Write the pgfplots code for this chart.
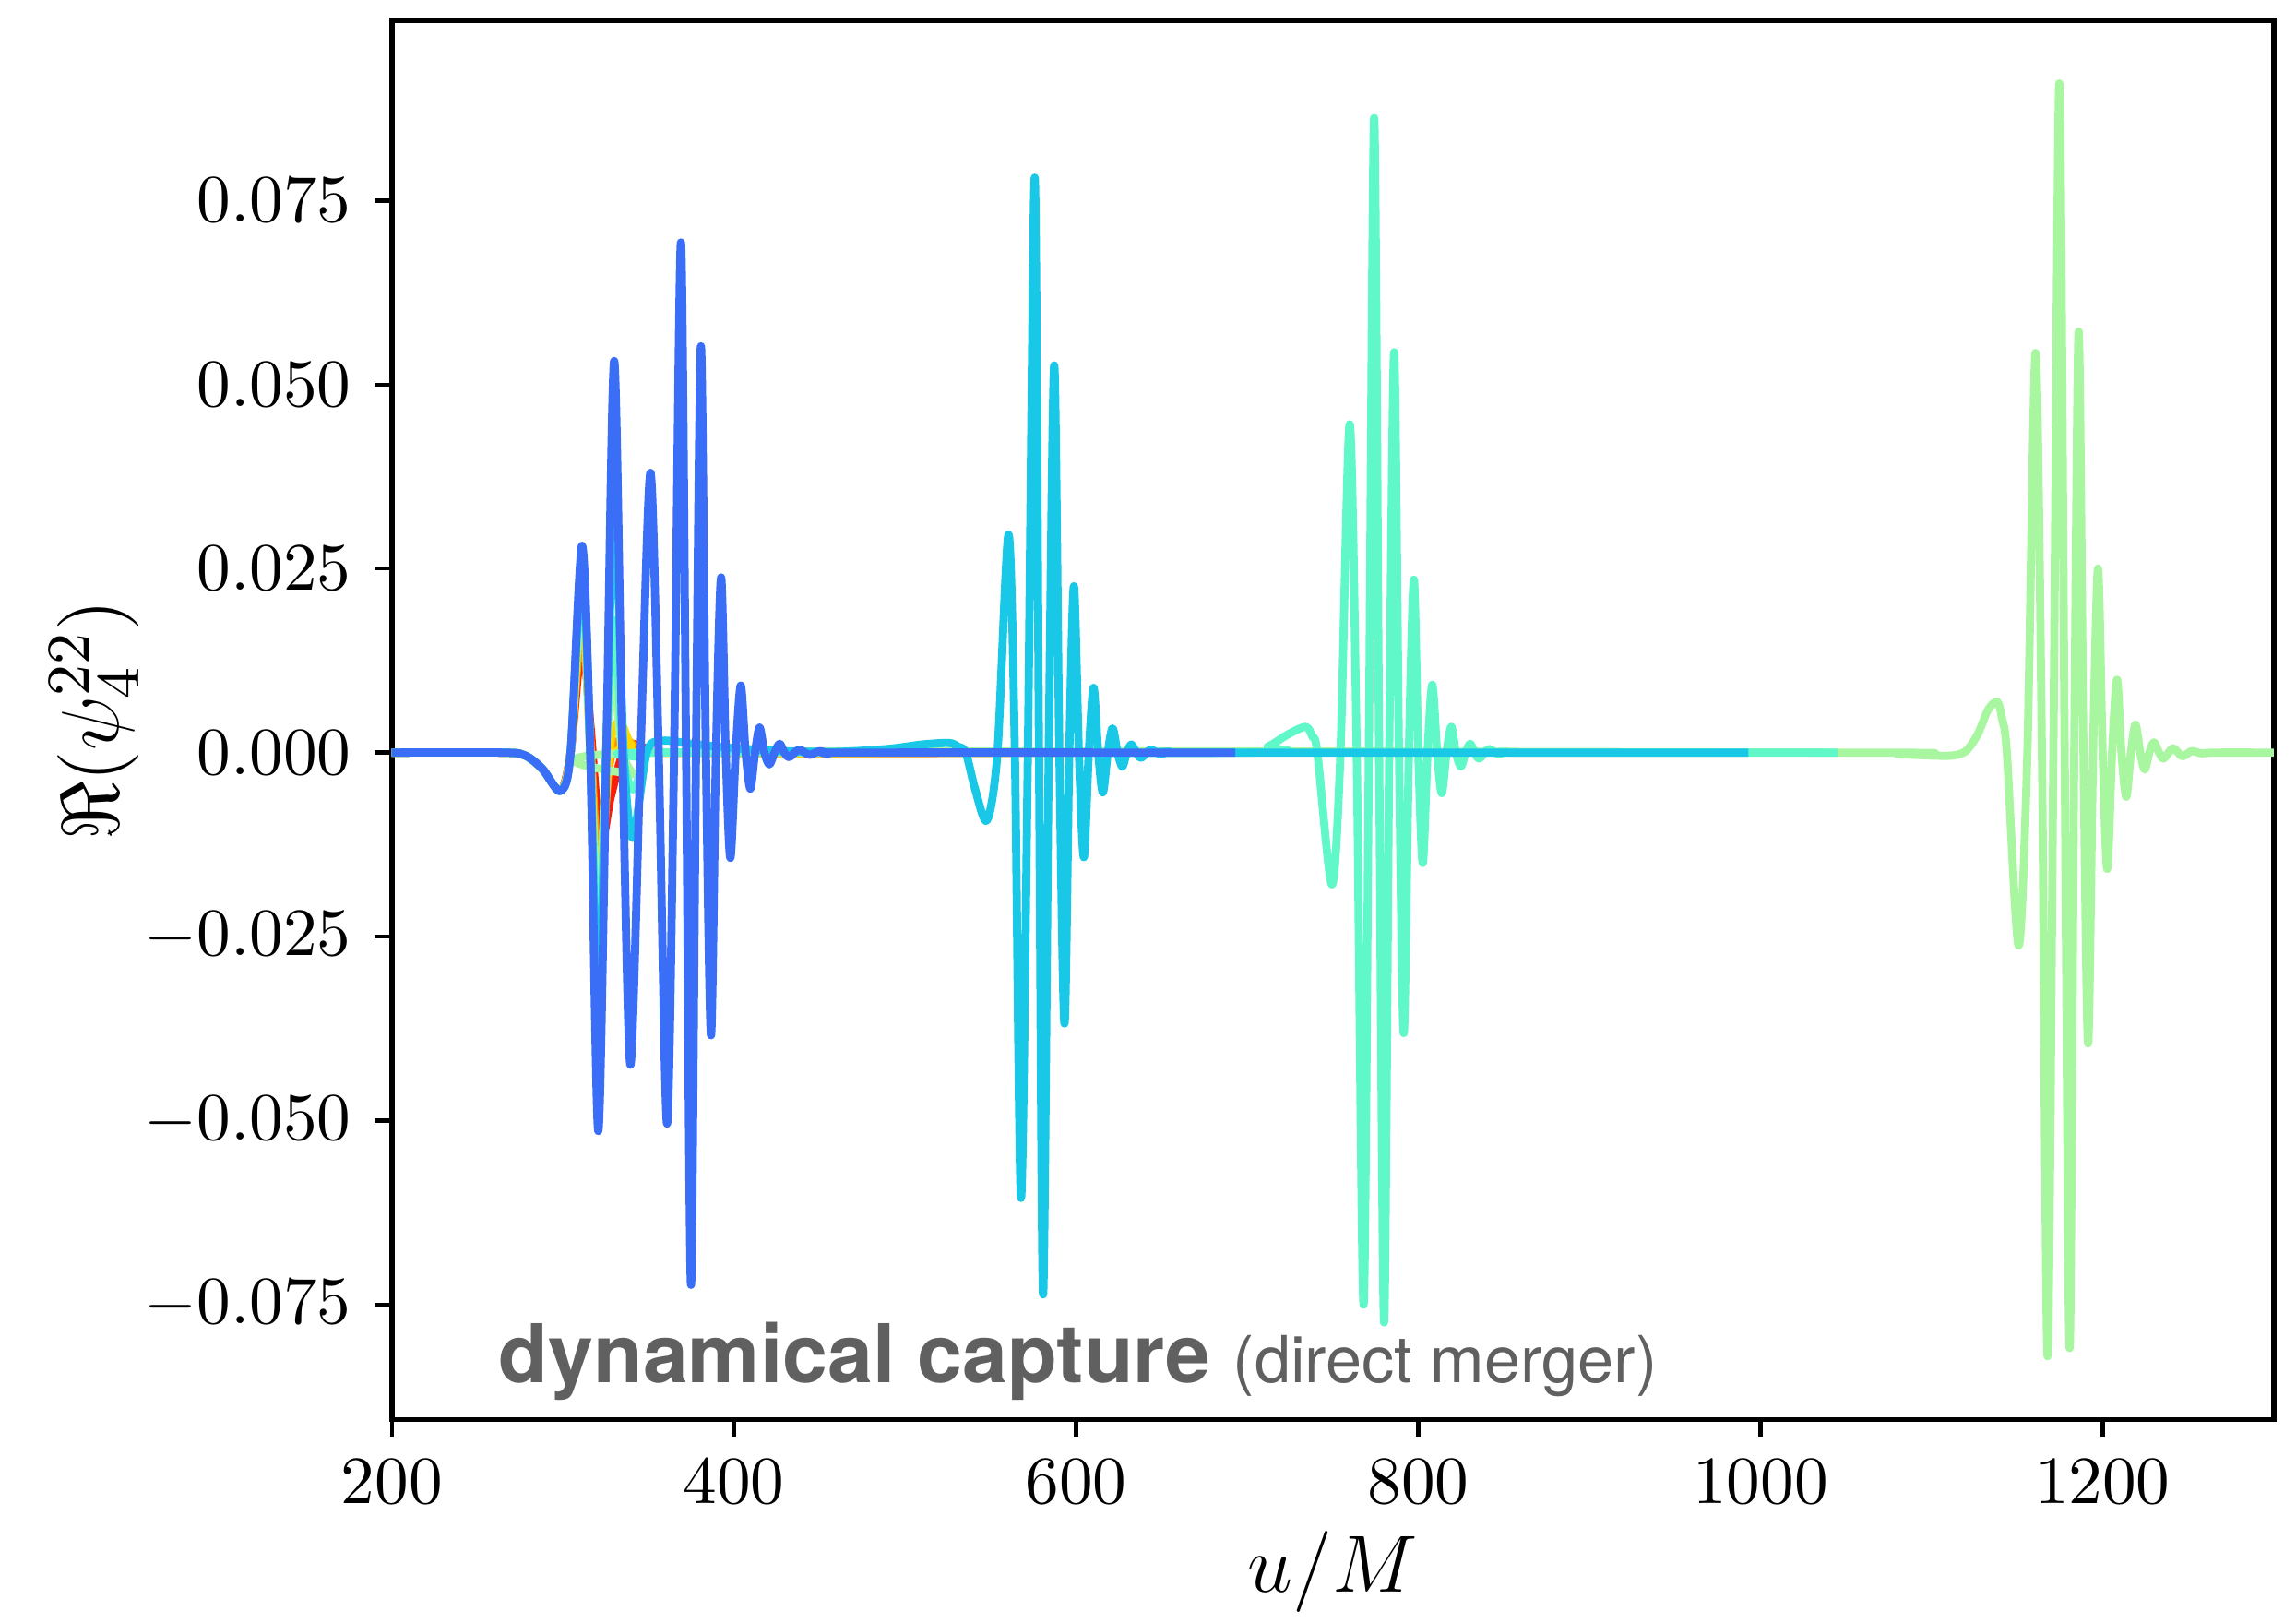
\documentclass[border=0pt]{standalone}
\usepackage{pgfplots}
\pgfplotsset{compat=1.18}
\usepackage{fontspec}
\newfontfamily\heros{TeX Gyre Heros}
\definecolor{cRed}{RGB}{250,30,10}
\definecolor{cOrange}{RGB}{255,150,0}
\definecolor{cYellow}{RGB}{255,215,0}
\definecolor{cLgreen}{RGB}{168,247,160}
\definecolor{cAqua}{RGB}{96,248,200}
\definecolor{cCyan}{RGB}{24,200,230}
\definecolor{cBlue}{RGB}{58,110,247}
\definecolor{textgray}{RGB}{96,96,96}
\begin{document}
\begin{tikzpicture}
\path[use as bounding box] (-58.0pt,-30.0pt) rectangle (281.9pt,210.1pt);
\begin{axis}[
  scale only axis,
  width=278.6pt, height=207.1pt,
  xmin=200, xmax=1300,
  ymin=-0.0906, ymax=0.0995,
  xtick={200,400,600,800,1000,1200},
  ytick={-0.075,-0.05,-0.025,0,0.025,0.05,0.075},
  scaled y ticks=false,
  scaled x ticks=false,
  yticklabel style={/pgf/number format/fixed,/pgf/number format/fixed zerofill,/pgf/number format/precision=3},
  xticklabel style={/pgf/number format/1000 sep={}},
  tick align=outside,
  major tick length=2.5pt,
  tick style={black, line width=0.6pt},
  axis line style={line width=0.8pt},
  xtick pos=bottom, ytick pos=left,
  tick label style={font=\normalsize},
  xlabel={$u/M$},
  ylabel={$\Re(\psi_4^{22})$},
  every axis x label/.style={at={(axis description cs:0.5,-0.109)}, anchor=center, font=\fontsize{13.2}{15}\selectfont},
  every axis y label/.style={at={(axis description cs:-0.158,0.5)}, rotate=90, anchor=center, font=\fontsize{12.6}{15}\selectfont},
  every axis plot/.append style={line width=1.2pt, line join=round, smooth},
]
% red
\addplot[color=cRed] coordinates {
(200,0)(265,0)(278,-0.0004)(288,-0.0022)(298.6,-0.0052)(304.5,0)(311.2,0.015)(316,0.004)(322,-0.012)(328,-0.006)(335,0)(340,0.0012)(350,0.0005)(370,0)(600,0)};
% orange
\addplot[color=cOrange] coordinates {
(200,0)(265,0)(278,-0.0004)(288,-0.0022)(298.6,-0.0052)(304.5,0)(311.2,0.018)(316,0.002)(321,-0.016)(327,-0.002)(332,0.0015)(337,0.0018)(345,0.0005)(360,0)(600,0)};
% yellow
\addplot[color=cYellow] coordinates {
(200,0)(265,0)(278,-0.0004)(288,-0.0022)(298.6,-0.0052)(304.5,0)(311.2,0.021)(316,0)(321,-0.021)(327,0)(333,0.0043)(340,0.001)(350,0)(600,0)};
% light green
\addplot[color=cLgreen] coordinates {
(200,0)(265,0)(278,-0.0004)(288,-0.0022)(298.6,-0.0052)(304.5,0)(311.2,0.023)(316,0)(320.6,-0.026)(325.3,0)(329.5,0.010)(335,0)(343,-0.003)(352,0)
(1050,0)(1080,-0.0002)(1100,-0.0004)(1112,-0.0004)(1120,0.0002)(1127,0.0025)(1133,0.0058)(1138.4,0.0069)(1141.3,0.0045)(1144,0)
(1150.9,-0.0262)(1156,0)(1160.8,0.0543)(1164.5,0)(1167.8,-0.082)(1171.2,0)(1174.7,0.0909)(1177.8,0)(1180.7,-0.0809)(1183.4,0)
(1186.0,0.0572)(1188.8,0)(1191.5,-0.0395)(1194.4,0)(1197.3,0.0250)(1200,0)(1202.7,-0.0158)(1205.5,0)(1208.4,0.0099)(1211,0)
(1213.8,-0.0060)(1216.5,0)(1219.2,0.0038)(1222,0)(1224.6,-0.0023)(1227.3,0)(1230.0,0.0014)(1233,0)(1235.7,-0.0008)(1241.1,0.0006)
(1246.5,-0.0005)(1252,0.0002)(1258,-0.0001)(1265,0)(1300,0)};
% aquamarine
\addplot[color=cAqua] coordinates {
(200,0)(265,0)(278,-0.0004)(288,-0.0022)(298.6,-0.0052)(304.5,0)(311.2,0.025)(316,0)(320.6,-0.030)(325.3,0)(329.8,0.018)(335,0)(341,-0.005)(348,-0.001)(355,0)
(700,0)(712,0.0008)(724,0.0025)(734.2,0.0035)(738,0.0022)(741,0)(749.5,-0.0179)(754.5,0)(759.9,0.0446)(764,0)(768,-0.075)(771.1,0)
(774.2,0.0862)(777.1,0)(780,-0.0774)(783,0)(785.9,0.0544)(788.7,0)(791.5,-0.0381)(794.5,0)(797.4,0.0235)(800,0)(802.6,-0.0150)(805.4,0)
(808.2,0.0092)(811,0)(813.7,-0.0055)(816.5,0)(819.3,0.0035)(822,0)(824.9,-0.0019)(827.6,0)(830.3,0.0012)(833,0)(835.7,-0.0008)
(841.1,0.0005)(846.5,-0.0002)(852,0.0001)(860,0)(1045,0)};
% cyan
\addplot[color=cCyan] coordinates {
(200,0)(265,0)(278,-0.0004)(288,-0.0022)(298.6,-0.0052)(304.5,0)(311.2,0.0265)(316,0)(320.6,-0.038)(325.3,0)(330.2,0.034)(335.5,0)(340.8,-0.0116)(349,0)
(358,0.0016)(375,0.0012)(400,0.0006)(430,0.0002)(460,0.0001)(490,0.0005)(510,0.0011)(525.8,0.0013)(531,0.0008)(535.5,0)(541,-0.005)
(547.9,-0.0092)(554,0)(560.5,0.0296)(564.2,0)(567.8,-0.0605)(571.8,0)(575.8,0.0781)(578.3,0)(580.7,-0.0736)(584,0)(587.2,0.0526)(590.2,0)
(593.2,-0.0368)(596,0)(598.7,0.0226)(601.6,0)(604.5,-0.0142)(607.4,0)(610.2,0.0088)(612.9,0)(615.6,-0.0054)(618.5,0)(621.3,0.0033)(624.2,0)
(627.0,-0.0019)(629.6,0)(632.3,0.0011)(635.2,0)(638.1,-0.0007)(643.4,0.0004)(649,-0.0002)(655,0.0001)(665,0)(993,0)};
% blue
\addplot[color=cBlue] coordinates {
(200,0)(265,0)(278,-0.0004)(288,-0.0022)(298.6,-0.0052)(304.5,0)(311.2,0.0281)(316,0)(320.7,-0.0514)(325.4,0)(330.0,0.0532)(334.8,0)
(339.5,-0.0424)(345.4,0)(351.2,0.0380)(356,0)(360.9,-0.0504)(365,0)(369.0,0.0693)(372,0)(374.9,-0.0723)(377.8,0)(380.7,0.0552)(383.6,0)
(386.6,-0.0384)(389.5,0)(392.5,0.0238)(395.2,0)(397.9,-0.0143)(401,0)(404.0,0.0091)(406.8,0)(409.6,-0.0049)(412.3,0)(415.0,0.0034)(417.8,0)
(420.7,-0.0016)(423.7,0)(426.7,0.0012)(429.5,0)(432.4,-0.0006)(438,0.0004)(444,-0.0003)(450,0.0002)(456,-0.0001)(470,0)(693,0)};
\node[anchor=base west, text=textgray, inner sep=0pt] at (axis cs:261.8,-0.0856)
  {\heros\fontsize{12}{14}\selectfont\bfseries dynamical capture \fontsize{9.6}{11}\selectfont\mdseries (direct merger)};
\end{axis}
\end{tikzpicture}
\end{document}
